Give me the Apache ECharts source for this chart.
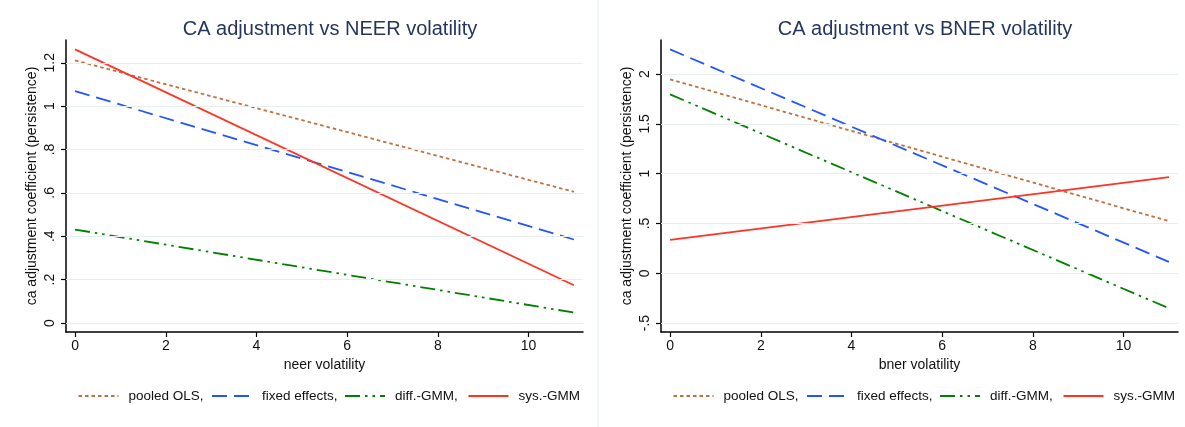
<!DOCTYPE html>
<html>
<head>
<meta charset="utf-8">
<script src="https://cdn.jsdelivr.net/npm/echarts@6/dist/echarts.min.js"></script>
<style>
  html, body { margin: 0; padding: 0; background: #fff; }
  #chart { width: 1185px; height: 427px; }
</style>
</head>
<body>
<div id="chart"></div>
<script>
// data
const seriesNames = ['pooled OLS,', 'fixed effects,', 'diff.-GMM,', 'sys.-GMM'];
const volX = [0, 11];
const xTicks = [0, 2, 4, 6, 8, 10];
const neerYTicks = [0, 0.2, 0.4, 0.6, 0.8, 1, 1.2];
const bnerYTicks = [-0.5, 0, 0.5, 1, 1.5, 2];

const neerPooled = [1.211, 0.605];
const neerFixed = [1.069, 0.385];
const neerDiff = [0.431, 0.048];
const neerSys = [1.262, 0.174];

const bnerPooled = [1.947, 0.523];
const bnerFixed = [2.248, 0.114];
const bnerDiff = [1.796, -0.352];
const bnerSys = [0.335, 0.965];

const FONT = 'Liberation Sans, Arial, Helvetica, sans-serif';
const colors = ['#c0703f', '#2255ff', '#008000', '#ff3322'];
const dashes = [[3.5, 3], [15, 7], [15, 5, 2.5, 5, 2.5, 5], 'solid'];

const grids = [
  { left: 66, top: 40, width: 517, height: 292 },
  { left: 661, top: 40, width: 517, height: 292 }
];

// Stata style labels: .2 instead of 0.2
const stataNum = (v) => {
  let s = String(Math.round(v * 100) / 100);
  return s.replace(/^0\./, '.').replace(/^-0\./, '-.');
};

const chart = echarts.init(document.getElementById('chart'));

const makeX = (i, name) => ({
  type: 'value',
  gridIndex: i,
  min: -0.2,
  max: 11.2,
  name: name,
  nameLocation: 'middle',
  nameGap: 24,
  nameTextStyle: { fontFamily: FONT, fontSize: 14, color: '#111' },
  axisLine: { show: true, onZero: false, lineStyle: { color: '#000', width: 1.5 } },
  axisTick: { show: true, length: 5, customValues: xTicks, lineStyle: { color: '#000', width: 1.2 } },
  axisLabel: { customValues: xTicks, margin: 7, fontFamily: FONT, fontSize: 14, color: '#111', formatter: stataNum },
  splitLine: { show: false }
});

const makeY = (i, min, max, ticks) => ({
  type: 'value',
  gridIndex: i,
  min: min,
  max: max,
  name: 'ca adjustment coefficient (persistence)',
  nameLocation: 'middle',
  nameGap: 27,
  nameTextStyle: { fontFamily: FONT, fontSize: 14, color: '#111' },
  axisLine: { show: true, onZero: false, lineStyle: { color: '#000', width: 1.5 } },
  axisTick: { show: true, length: 5, customValues: ticks, lineStyle: { color: '#000', width: 1.2 } },
  axisLabel: { customValues: ticks, rotate: 90, margin: 9, fontFamily: FONT, fontSize: 14, color: '#111', formatter: stataNum },
  splitLine: { show: false }
});

const panelData = [
  [neerPooled, neerFixed, neerDiff, neerSys],
  [bnerPooled, bnerFixed, bnerDiff, bnerSys]
];
const panelTicks = [neerYTicks, bnerYTicks];

const series = [];
panelData.forEach((lines, p) => {
  // gridlines at the y tick values
  series.push({
    type: 'line',
    name: 'grid' + p,
    xAxisIndex: p,
    yAxisIndex: p,
    data: [],
    silent: true,
    z: 1,
    markLine: {
      silent: true,
      symbol: 'none',
      label: { show: false },
      lineStyle: { color: '#e6eff0', width: 1.2, type: 'solid' },
      data: panelTicks[p].map((v) => ({ yAxis: v }))
    }
  });
  lines.forEach((vals, k) => {
    series.push({
      type: 'line',
      name: seriesNames[k],
      xAxisIndex: p,
      yAxisIndex: p,
      z: 3,
      symbol: 'none',
      animation: false,
      lineStyle: { color: colors[k], width: 1.8, type: dashes[k] },
      itemStyle: { color: colors[k] },
      data: volX.map((x, j) => [x, vals[j]])
    });
  });
});

const legendOffsets = [11.5, 145, 278, 401.5];
const legends = [];
grids.forEach((g) => {
  seriesNames.forEach((n, k) => {
    legends.push({
      data: [n],
      left: g.left + legendOffsets[k],
      top: 389,
      padding: 0,
      itemWidth: 40,
      itemHeight: 12,
      selectedMode: false,
      itemStyle: { opacity: 0 },
      textStyle: { fontFamily: FONT, fontSize: 13.5, color: '#111', padding: [0, 0, 0, 5] }
    });
  });
});

const option = {
  backgroundColor: '#ffffff',
  animation: false,
  title: [
    { text: 'CA adjustment vs NEER volatility', left: 325, top: 14, textAlign: 'center',
      textStyle: { fontFamily: FONT, fontSize: 20, fontWeight: 'normal', color: '#24365f' } },
    { text: 'CA adjustment vs BNER volatility', left: 920, top: 14, textAlign: 'center',
      textStyle: { fontFamily: FONT, fontSize: 20, fontWeight: 'normal', color: '#24365f' } }
  ],
  grid: grids,
  xAxis: [makeX(0, 'neer volatility'), makeX(1, 'bner volatility')],
  yAxis: [makeY(0, -0.0415, 1.305, neerYTicks), makeY(1, -0.59, 2.342, bnerYTicks)],
  legend: legends,
  series: series,
  graphic: [
    { type: 'line', shape: { x1: 598, y1: 0, x2: 598, y2: 427 }, style: { stroke: '#e6eff0', lineWidth: 1 } }
  ]
};

chart.setOption(option);
</script>
</body>
</html>
